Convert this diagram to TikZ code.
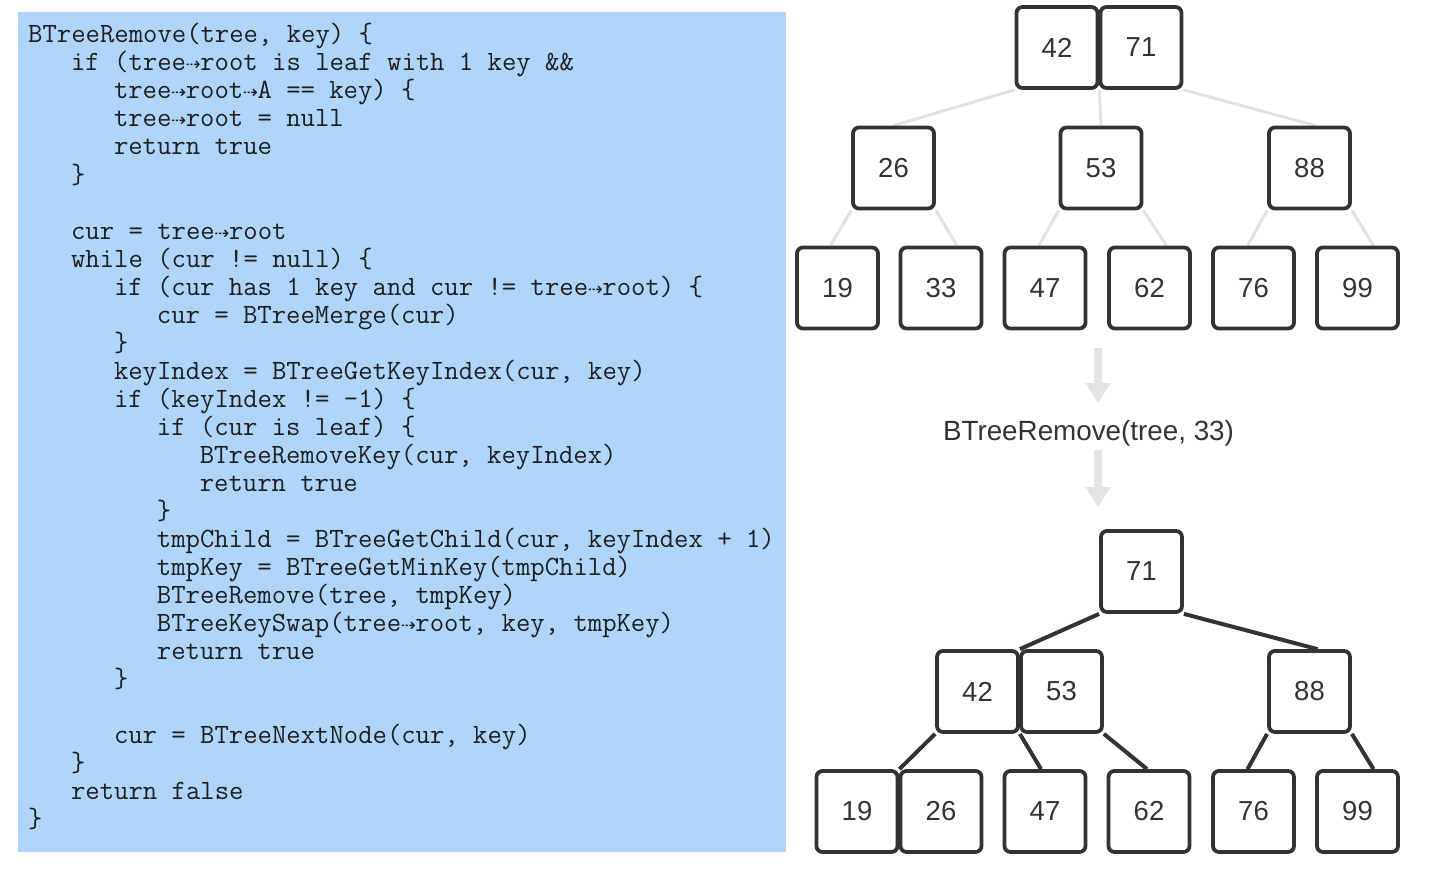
\documentclass[tikz,border=0pt]{standalone}
\usepackage{fontspec}
\setmainfont{Liberation Sans}
\newfontfamily\arrowfont{DejaVu Sans}
\usetikzlibrary{arrows.meta,calc,backgrounds}
\definecolor{codebg}{RGB}{176,213,250}
\definecolor{ink}{RGB}{51,51,51}
\definecolor{codeink}{RGB}{30,30,30}
\definecolor{lightedge}{RGB}{226,226,226}
\definecolor{flowgray}{RGB}{228,228,228}
\newcommand{\darr}{\makebox[14.3pt]{\arrowfont\fontsize{18}{18}\selectfont ⇢}}
\tikzset{
  codeline/.style={anchor=base west, inner sep=0pt, text=codeink, font=\ttfamily\fontsize{27.9}{28}\selectfont},
  keybox/.style={rectangle, rounded corners=6pt, draw=ink, fill=white, line width=3.8pt,
    minimum width=81pt, minimum height=81pt, inner sep=0pt, text=ink, font=\fontsize{27.5}{27.5}\selectfont},
  faintedge/.style={draw=lightedge, line width=3pt},
  darkedge/.style={draw=ink, line width=4pt},
  flowarrow/.style={draw=flowgray, line width=8pt, -{Triangle[width=24pt,length=20pt]}},
  caption/.style={text=ink, font=\fontsize{27.8}{27.8}\selectfont, inner sep=0pt}
}
\begin{document}
\begin{tikzpicture}[x=1pt,y=-1pt]
\useasboundingbox (0,0) rectangle (1436,872);
\fill[codebg] (18,12) rectangle (786,852);
% code
\node[codeline] (c1)  at (28,43)  {BTreeRemove(tree, key) \{};
\node[codeline] (c2)  at (70.9,71)  {if (tree\darr root is leaf with 1 key \&\&};
\node[codeline] (c3)  at (113.8,99)  {tree\darr root\darr A == key) \{};
\node[codeline] (c4)  at (113.8,127) {tree\darr root = null};
\node[codeline] (c5)  at (113.8,155) {return true};
\node[codeline] (c6)  at (70.9,183)  {\}};
\node[codeline] (c8)  at (70.9,239)  {cur = tree\darr root};
\node[codeline] (c9)  at (70.9,267)  {while (cur != null) \{};
\node[codeline] (c10) at (113.8,295) {if (cur has 1 key and cur != tree\darr root) \{};
\node[codeline] (c11) at (156.7,323) {cur = BTreeMerge(cur)};
\node[codeline] (c12) at (113.8,351) {\}};
\node[codeline] (c13) at (113.8,379) {keyIndex = BTreeGetKeyIndex(cur, key)};
\node[codeline] (c14) at (113.8,407) {if (keyIndex != -1) \{};
\node[codeline] (c15) at (156.7,435) {if (cur is leaf) \{};
\node[codeline] (c16) at (199.6,463) {BTreeRemoveKey(cur, keyIndex)};
\node[codeline] (c17) at (199.6,491) {return true};
\node[codeline] (c18) at (156.7,519) {\}};
\node[codeline] (c19) at (156.7,547) {tmpChild = BTreeGetChild(cur, keyIndex + 1)};
\node[codeline] (c20) at (156.7,575) {tmpKey = BTreeGetMinKey(tmpChild)};
\node[codeline] (c21) at (156.7,603) {BTreeRemove(tree, tmpKey)};
\node[codeline] (c22) at (156.7,631) {BTreeKeySwap(tree\darr root, key, tmpKey)};
\node[codeline] (c23) at (156.7,659) {return true};
\node[codeline] (c24) at (113.8,687) {\}};
\node[codeline] (c26) at (113.8,743) {cur = BTreeNextNode(cur, key)};
\node[codeline] (c27) at (70.9,771)  {\}};
\node[codeline] (c28) at (70.9,799)  {return false};
\node[codeline] (c29) at (28,827)    {\}};
% top tree
\node[keybox] (a42) at (1057,47.5) {42};
\node[keybox] (a71) at (1141,47.5) {71};
\node[keybox] (a26) at (893.5,168) {26};
\node[keybox] (a53) at (1101,168) {53};
\node[keybox] (a88) at (1309.5,168) {88};
\node[keybox] (a19) at (837.5,288) {19};
\node[keybox] (a33) at (941,288) {33};
\node[keybox] (a47) at (1045,288) {47};
\node[keybox] (a62) at (1149.5,288) {62};
\node[keybox] (a76) at (1253.5,288) {76};
\node[keybox] (a99) at (1357.5,288) {99};
% bottom tree
\node[keybox] (b71) at (1141.5,571.5) {71};
\node[keybox] (b42) at (977.5,691.5) {42};
\node[keybox] (b53) at (1061.5,691.5) {53};
\node[keybox] (b88) at (1309.5,691.5) {88};
\node[keybox] (b19) at (857,811.5) {19};
\node[keybox] (b26) at (941,811.5) {26};
\node[keybox] (b47) at (1045,811.5) {47};
\node[keybox] (b62) at (1149,811.5) {62};
\node[keybox] (b76) at (1253.5,811.5) {76};
\node[keybox] (b99) at (1357.5,811.5) {99};
\begin{scope}[on background layer]
% top edges
\draw[faintedge] (a42.south west) -- (a26.north);
\draw[faintedge] (a42.south east) -- (a53.north);
\draw[faintedge] (a71.south east) -- ($(a88.north)+(6,0)$);
\draw[faintedge] (a26.south west) -- ($(a19.north)+(-7,0)$);
\draw[faintedge] (a26.south east) -- ($(a33.north)+(16,0)$);
\draw[faintedge] (a53.south west) -- ($(a47.north)+(-6,0)$);
\draw[faintedge] (a53.south east) -- ($(a62.north)+(17,0)$);
\draw[faintedge] (a88.south west) -- ($(a76.north)+(-6,0)$);
\draw[faintedge] (a88.south east) -- ($(a99.north)+(16,0)$);
% bottom edges
\draw[darkedge] (b71.south west) -- (b42.north east);
\draw[darkedge] (b71.south east) -- ($(b88.north)+(8,0)$);
\draw[darkedge] (b42.south west) -- (b19.north east);
\draw[darkedge] (b42.south east) -- ($(b47.north)+(-4,0)$);
\draw[darkedge] (b53.south east) -- ($(b62.north)+(-2,0)$);
\draw[darkedge] (b88.south west) -- ($(b76.north)+(-6,0)$);
\draw[darkedge] (b88.south east) -- ($(b99.north)+(16,0)$);
\end{scope}
% operation label and arrows
\node[caption] (op) at (1088.5,433.5) {BTreeRemove(tree, 33)};
\coordinate (f1s) at (1098,348);
\coordinate (f1e) at (1098,403);
\coordinate (f2s) at (1098,450);
\coordinate (f2e) at (1098,507);
\draw[flowarrow] (f1s) -- (f1e);
\draw[flowarrow] (f2s) -- (f2e);
\end{tikzpicture}
\end{document}
